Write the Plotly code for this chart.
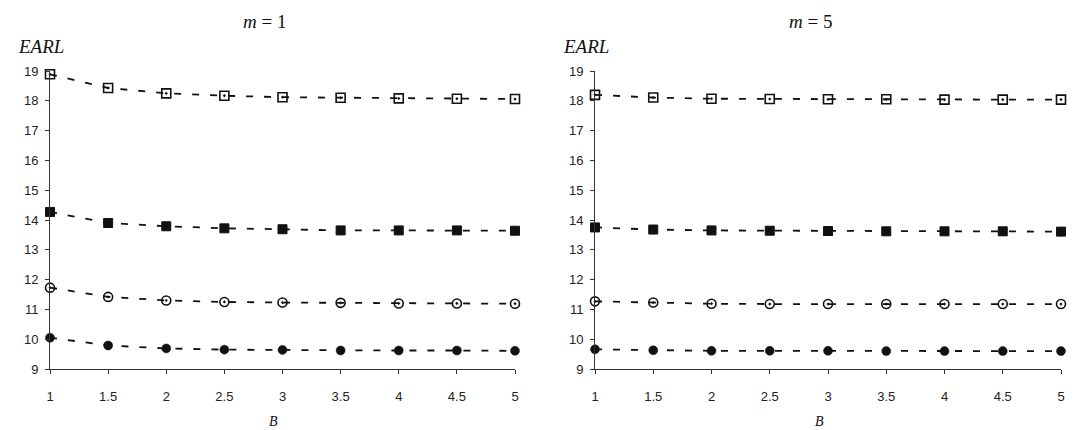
import plotly.graph_objects as go

B = [1, 1.5, 2, 2.5, 3, 3.5, 4, 4.5, 5]

# m = 1 panel
m1_open_square = [18.89, 18.43, 18.25, 18.17, 18.12, 18.10, 18.08, 18.07, 18.06]
m1_filled_square = [14.27, 13.90, 13.79, 13.72, 13.69, 13.65, 13.65, 13.65, 13.64]
m1_open_circle = [11.73, 11.42, 11.30, 11.25, 11.23, 11.22, 11.20, 11.20, 11.19]
m1_filled_circle = [10.05, 9.79, 9.69, 9.65, 9.64, 9.62, 9.62, 9.62, 9.61]

# m = 5 panel
m5_open_square = [18.20, 18.11, 18.07, 18.06, 18.05, 18.05, 18.04, 18.04, 18.04]
m5_filled_square = [13.75, 13.68, 13.65, 13.64, 13.63, 13.62, 13.62, 13.62, 13.61]
m5_open_circle = [11.27, 11.23, 11.19, 11.18, 11.18, 11.18, 11.18, 11.18, 11.18]
m5_filled_circle = [9.66, 9.63, 9.61, 9.61, 9.61, 9.60, 9.60, 9.60, 9.60]

x_ticks = [1, 1.5, 2, 2.5, 3, 3.5, 4, 4.5, 5]
x_tick_labels = ["1", "1.5", "2", "2.5", "3", "3.5", "4", "4.5", "5"]
y_ticks = list(range(9, 20))
titles = ["<i>m</i> = 1", "<i>m</i> = 5"]

panels = [
    (m1_open_square, m1_filled_square, m1_open_circle, m1_filled_circle),
    (m5_open_square, m5_filled_square, m5_open_circle, m5_filled_circle),
]
symbols = ["square-open-dot", "square", "circle-open-dot", "circle"]
sizes = [9, 9, 9, 9]
lws = [1.6, 1, 1.6, 0.5]

fig = go.Figure()
for p, series in enumerate(panels):
    xa = "x" if p == 0 else "x2"
    ya = "y" if p == 0 else "y2"
    for s, vals in enumerate(series):
        fig.add_trace(go.Scatter(
            x=B, y=vals, xaxis=xa, yaxis=ya, mode="lines+markers",
            line=dict(color="#111", width=1.8, dash="7px,11px"),
            marker=dict(symbol=symbols[s], size=sizes[s], color="#111",
                        line=dict(color="#111", width=lws[s])),
            cliponaxis=False, showlegend=False,
        ))

axis_common = dict(
    showgrid=False, zeroline=False, showline=True, linecolor="#333", linewidth=1,
    ticks="outside", ticklen=4, tickcolor="#333",
    tickfont=dict(family="Liberation Sans, Arial, sans-serif", size=13, color="#222"),
)
ydom = [61 / 430, 359 / 430]
fig.update_layout(
    width=1092, height=430, margin=dict(l=0, r=0, t=0, b=0, autoexpand=False),
    plot_bgcolor="white", paper_bgcolor="white",
    xaxis=dict(domain=[50 / 1092, 515 / 1092], range=[1, 5], tickvals=x_ticks,
               ticktext=x_tick_labels, anchor="y", ticklabelstandoff=11, **axis_common),
    yaxis=dict(domain=ydom, range=[9, 19], tickvals=y_ticks, anchor="x",
               ticklabelstandoff=4, **axis_common),
    xaxis2=dict(domain=[595 / 1092, 1061 / 1092], range=[1, 5], tickvals=x_ticks,
                ticktext=x_tick_labels, anchor="y2", ticklabelstandoff=11, **axis_common),
    yaxis2=dict(domain=ydom, range=[9, 19], tickvals=y_ticks, anchor="x2",
                ticklabelstandoff=4, **axis_common),
)

serif = "Liberation Serif, DejaVu Serif, serif"
ann = []
for i, (cx, lx, bx) in enumerate([(264, 41, 273), (810, 586, 819)]):
    ann.append(dict(text=titles[i], x=cx / 1092, y=1 - 21 / 430, xref="paper", yref="paper",
                    showarrow=False, xanchor="center", yanchor="middle",
                    font=dict(family=serif, size=19, color="#111")))
    ann.append(dict(text="<i>EARL</i>", x=lx / 1092, y=1 - 46 / 430, xref="paper", yref="paper",
                    showarrow=False, xanchor="center", yanchor="middle",
                    font=dict(family=serif, size=19, color="#111")))
    ann.append(dict(text="<i>B</i>", x=bx / 1092, y=1 - 421 / 430, xref="paper", yref="paper",
                    showarrow=False, xanchor="center", yanchor="middle",
                    font=dict(family=serif, size=14, color="#111")))
fig.update_layout(annotations=ann)

fig.write_html("out.html")
